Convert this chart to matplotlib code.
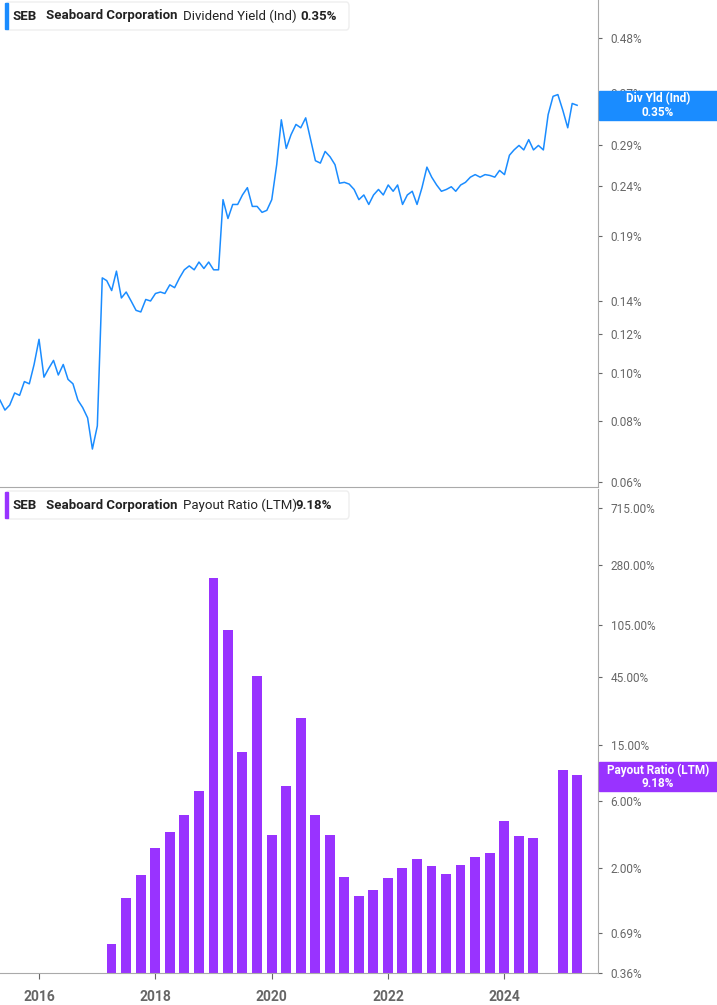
import matplotlib.pyplot as plt
import matplotlib.dates as mdates
import matplotlib.patches as mpatches
import numpy as np
import pandas as pd

plt.rcParams['font.family'] = 'Roboto'

# Dividend yield (Ind), monthly, in %
yield_dates = pd.date_range('2015-05-01', periods=120, freq='MS')
yield_vals = [
    0.088, 0.084, 0.086, 0.091, 0.090, 0.096, 0.095, 0.104, 0.117, 0.098,
    0.102, 0.106, 0.099, 0.104, 0.097, 0.095, 0.088, 0.085, 0.081, 0.070,
    0.078, 0.156, 0.154, 0.147, 0.161, 0.142, 0.146, 0.140, 0.134, 0.133,
    0.141, 0.140, 0.145, 0.146, 0.145, 0.151, 0.149, 0.156, 0.162, 0.165,
    0.162, 0.168, 0.163, 0.168, 0.162, 0.162, 0.225, 0.206, 0.220, 0.220,
    0.230, 0.238, 0.218, 0.218, 0.212, 0.214, 0.225, 0.265, 0.327, 0.286,
    0.305, 0.320, 0.315, 0.330, 0.298, 0.270, 0.267, 0.282, 0.275, 0.265,
    0.243, 0.244, 0.242, 0.236, 0.225, 0.230, 0.220, 0.230, 0.236, 0.230,
    0.241, 0.234, 0.241, 0.220, 0.230, 0.234, 0.220, 0.238, 0.262, 0.250,
    0.241, 0.234, 0.236, 0.239, 0.234, 0.241, 0.244, 0.250, 0.253, 0.250,
    0.253, 0.252, 0.250, 0.258, 0.253, 0.277, 0.284, 0.290, 0.284, 0.298,
    0.284, 0.290, 0.284, 0.335, 0.365, 0.368, 0.342, 0.315, 0.353, 0.350,
]

# Payout ratio (LTM), quarterly, in %
payout_dates = pd.date_range('2017-03-31', periods=33, freq='QE')
payout_vals = [
    0.58, 1.22, 1.78, 2.76, 3.59, 4.74, 7.0, 228, 97.5, 13.3,
    45.9, 3.42, 7.6, 23.1, 4.74, 3.45, 1.72, 1.26, 1.39, 1.70,
    2.0, 2.31, 2.05, 1.80, 2.10, 2.39, 2.55, 4.29, 3.38, 3.24,
    np.nan, 9.9, 9.18,
]

yield_ticks = [0.06, 0.08, 0.10, 0.12, 0.14, 0.19, 0.24, 0.29, 0.34, 0.37, 0.48]
payout_ticks = [0.36, 0.69, 2.0, 6.0, 15.0, 45.0, 105.0, 280.0, 715.0]

blue = '#1a8cff'
purple = '#9933ff'
gray = '#666666'
base = 0.36

fig = plt.figure(figsize=(7.17, 10.05), dpi=100)
W, H = 717, 1005
ax1 = fig.add_axes([0, (H - 487) / H, 598 / W, 487 / H])
ax2 = fig.add_axes([0, (H - 973) / H, 598 / W, (973 - 489) / H], sharex=ax1)

xmin = pd.Timestamp('2015-05-01')
xmax = pd.Timestamp('2025-08-10')

for ax in (ax1, ax2):
    ax.set_yscale('log')
    ax.yaxis.tick_right()
    for s in ('left', 'top'):
        ax.spines[s].set_visible(False)
    ax.spines['right'].set_color('#aaaaaa')
    ax.spines['bottom'].set_color('#aaaaaa')
    ax.tick_params(axis='y', which='both', colors=gray, labelsize=8.5, length=3, pad=6)
    ax.yaxis.set_minor_locator(plt.NullLocator())

ax1.plot(yield_dates, yield_vals, color=blue, linewidth=1.1)
ax1.set_ylim(0.0586, 0.573)
ax1.set_yticks(yield_ticks)
ax1.set_yticklabels([f'{t:.2f}%' for t in yield_ticks])
ax1.tick_params(axis='x', bottom=False, labelbottom=False)

heights = [v - base for v in payout_vals]
ax2.bar(payout_dates, heights, width=62, bottom=base, color=purple, edgecolor='none')
ax2.set_ylim(base, 975)
ax2.set_yticks(payout_ticks)
ax2.set_yticklabels([f'{t:.2f}%' for t in payout_ticks])
ax2.set_xlim(xmin, xmax)
ax2.xaxis.set_major_locator(mdates.YearLocator(2))
ax2.xaxis.set_major_formatter(mdates.DateFormatter('%Y'))
ax2.tick_params(axis='x', colors=gray, labelsize=10, length=4, pad=8)
for lbl in ax2.get_xticklabels():
    lbl.set_fontweight('bold')


def legend_box(y_px, color, parts):
    box = mpatches.FancyBboxPatch((6 / W, 1 - (y_px + 14) / H), 343 / W, 28 / H,
                                  boxstyle='round,pad=0,rounding_size=0.004',
                                  transform=fig.transFigure, facecolor='white',
                                  edgecolor='#eeeeee', linewidth=1, zorder=5)
    fig.patches.append(box)
    bar = mpatches.Rectangle((5 / W, 1 - (y_px + 13) / H), 3 / W, 26 / H,
                             transform=fig.transFigure, color=color, zorder=6)
    fig.patches.append(bar)
    for x, txt, weight in parts:
        fig.text(x / W, 1 - y_px / H, txt, fontsize=9.5, fontweight=weight,
                 color='#222222', va='center', zorder=7)


legend_box(16, blue, [(13, 'SEB', 'bold'), (46, 'Seaboard Corporation', 'bold'),
                      (183, 'Dividend Yield (Ind)', 'normal'), (300, '0.35%', 'bold')])
legend_box(505, purple, [(13, 'SEB', 'bold'), (46, 'Seaboard Corporation', 'bold'),
                         (183, 'Payout Ratio (LTM)', 'normal'), (296, '9.18%', 'bold')])


def value_tag(y_top, color, line1, line2):
    fig.patches.append(mpatches.Rectangle((599 / W, 1 - (y_top + 29) / H), 118 / W, 29 / H,
                                          transform=fig.transFigure, color=color, zorder=5))
    fig.text(658 / W, 1 - (y_top + 8) / H, line1, fontsize=8.5, color='white',
             fontweight='bold', ha='center', va='center', zorder=6)
    fig.text(658 / W, 1 - (y_top + 21) / H, line2, fontsize=8.5, color='white',
             fontweight='bold', ha='center', va='center', zorder=6)


value_tag(91, blue, 'Div Yld (Ind)', '0.35%')
value_tag(762, purple, 'Payout Ratio (LTM)', '9.18%')

fig.savefig('out.png', dpi=100)
